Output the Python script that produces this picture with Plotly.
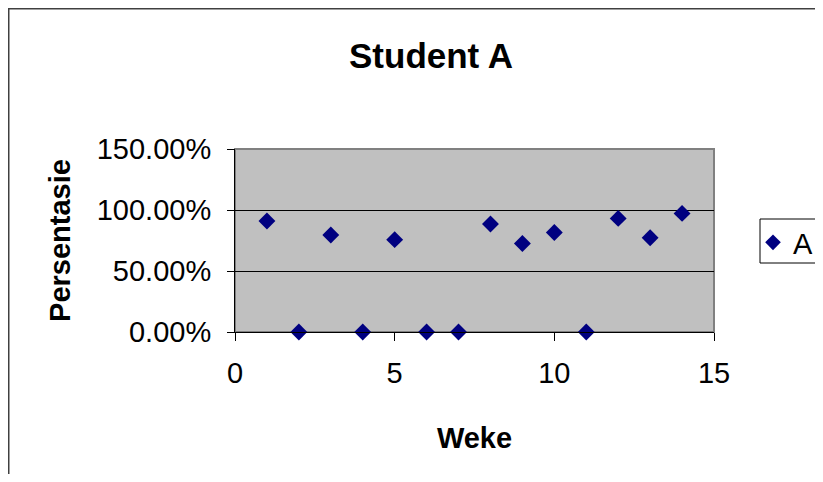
import plotly.graph_objects as go

weeks = [1, 2, 3, 4, 5, 6, 7, 8, 9, 10, 11, 12, 13, 14]
percent_a = [0.91, 0.0, 0.795, 0.0, 0.757, 0.0, 0.0, 0.885, 0.726, 0.816, 0.0, 0.931, 0.773, 0.972]
series_name = "A"
title_text = "Student A"
x_title = "Weke"
y_title = "Persentasie"

# page is offset by the 8px body margin; work in figure coordinates
W, H = 815, 466
L, R, T, B = 227, 706, 141, 324
pw, ph = R - L, B - T

FONT = "Liberation Sans, Arial, sans-serif"


def px(x):
    return (x - L) / pw


def py(y):
    return (B - y) / ph


fig = go.Figure()
fig.add_trace(go.Scatter(
    x=weeks, y=percent_a, mode="markers", name=series_name,
    marker=dict(symbol="diamond", size=13, color="#000080",
                line=dict(width=0)),
    cliponaxis=False,
))

fig.update_layout(
    width=W, height=H,
    margin=dict(l=L, r=W - R, t=T, b=H - B, pad=0, autoexpand=False),
    paper_bgcolor="white",
    plot_bgcolor="#C0C0C0",
    font=dict(family=FONT, size=29, color="black"),
    title=dict(text="<b>" + title_text + "</b>", font=dict(size=35),
               x=423 / W, xanchor="center", xref="container",
               y=1 - 48 / H, yanchor="middle", yref="container"),
    showlegend=True,
    legend=dict(x=745 / W, xanchor="left", xref="container",
                y=1 - 209 / H, yanchor="top", yref="container",
                borderwidth=0, bgcolor="rgba(0,0,0,0)",
                font=dict(size=29), itemsizing="constant"),
    xaxis=dict(range=[0, 15], dtick=5, tick0=0, showgrid=False, zeroline=False,
               showline=True, linecolor="black", linewidth=1,
               ticks="outside", ticklen=8, tickcolor="black",
               ticklabelstandoff=7, automargin=False,
               title=dict(text="<b>" + x_title + "</b>", font=dict(size=29), standoff=39)),
    yaxis=dict(range=[0, 1.5], dtick=0.5, tick0=0, tickformat=".2%",
               showgrid=True, gridcolor="black", gridwidth=1, zeroline=False,
               showline=True, linecolor="black", linewidth=1,
               ticks="outside", ticklen=7, tickcolor="black",
               ticklabelstandoff=10, automargin=False,
               title=dict(text="<b>" + y_title + "</b>", font=dict(size=29), standoff=17)),
)

# plot area border (gray)
fig.add_shape(type="rect", xref="paper", yref="paper", x0=0, x1=1, y0=0, y1=1,
              line=dict(color="#808080", width=2), layer="below")
# outer chart frame
fig.add_shape(type="rect", xref="paper", yref="paper",
              x0=px(0.75), x1=px(830), y0=py(490), y1=py(0.75),
              line=dict(color="#404040", width=1.5), fillcolor="rgba(0,0,0,0)")
# legend box
fig.add_shape(type="rect", xref="paper", yref="paper",
              x0=px(752), x1=px(814.5), y0=py(255), y1=py(211),
              line=dict(color="black", width=1), fillcolor="white", layer="below")

fig.write_html("out.html")
